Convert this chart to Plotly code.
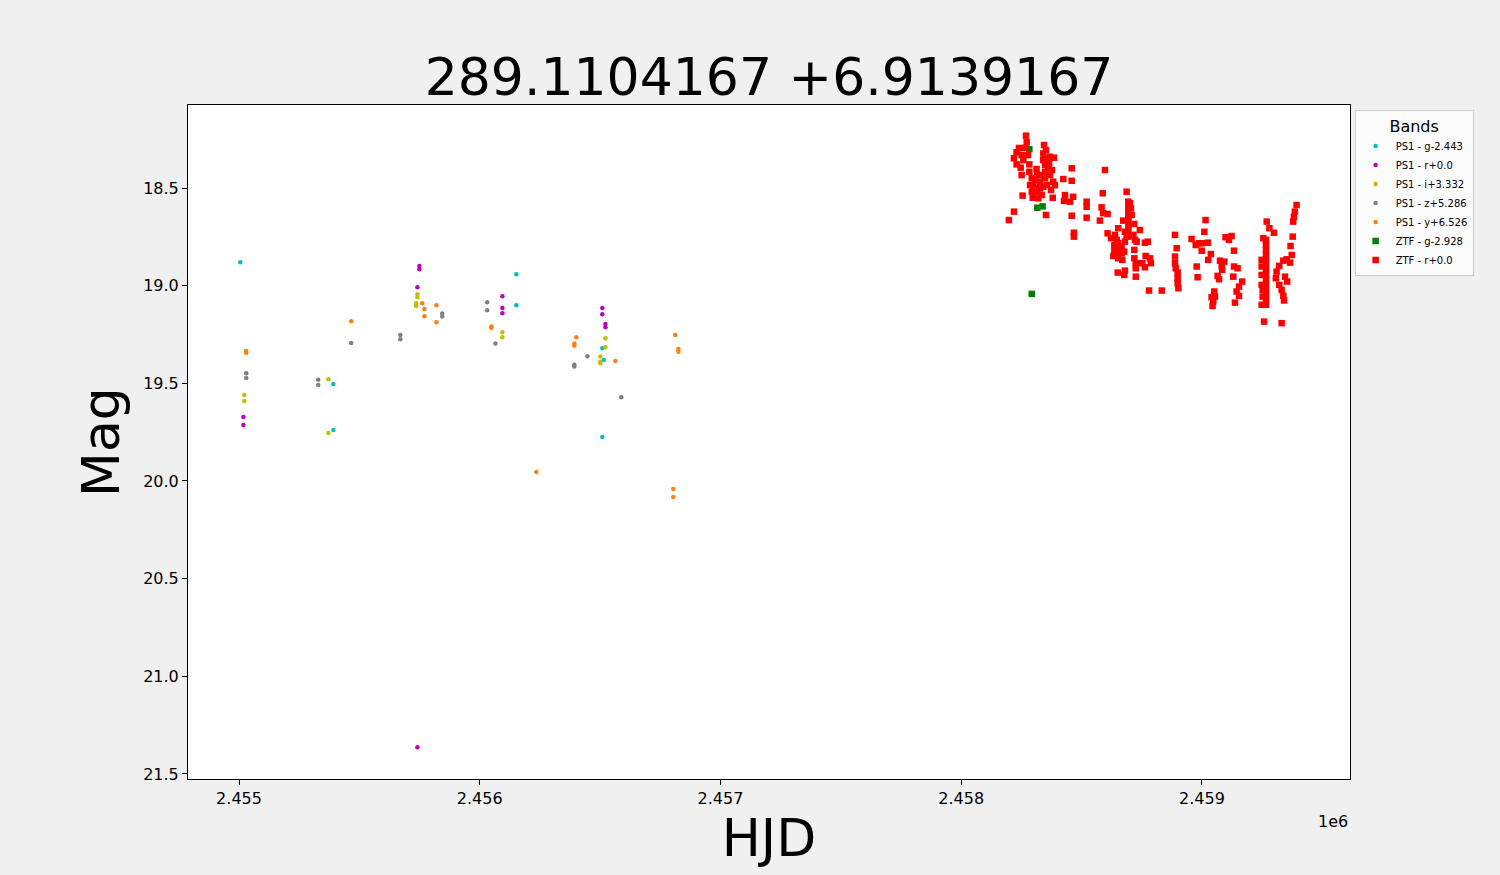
import plotly.graph_objects as go

# ---------------- data ----------------
ps1_g_hjd = [2455005, 2455392, 2455392, 2456152, 2456152, 2456509, 2456515, 2456509]
ps1_g_mag = [18.880, 19.504, 19.739, 18.941, 19.100, 19.320, 19.381, 19.775]

ps1_r_hjd = [2455018, 2455018, 2455749, 2455749, 2455741, 2455741, 2456094, 2456094, 2456094,
             2456509, 2456509, 2456522, 2456522]
ps1_r_mag = [19.673, 19.714, 18.899, 18.916, 19.008, 21.364, 19.054, 19.114, 19.141,
             19.115, 19.146, 19.196, 19.213]

ps1_i_hjd = [2455022, 2455022, 2455371, 2455371, 2455741, 2455741, 2455736, 2455736,
             2456094, 2456094, 2456522, 2456522, 2456501, 2456501, 2456501]
ps1_i_mag = [19.560, 19.591, 19.479, 19.755, 19.044, 19.059, 19.090, 19.104,
             19.238, 19.264, 19.269, 19.315, 19.363, 19.389, 19.397]

ps1_z_hjd = [2455030, 2455030, 2455329, 2455329, 2455466, 2455670, 2455670, 2455844, 2455844,
             2456031, 2456031, 2456065, 2456447, 2456393, 2456393, 2456588]
ps1_z_mag = [19.448, 19.473, 19.482, 19.509, 19.294, 19.253, 19.274, 19.143, 19.158,
             19.085, 19.126, 19.296, 19.361, 19.414, 19.405, 19.571]

ps1_y_hjd = [2455030, 2455030, 2455466, 2455761, 2455770, 2455770, 2455820, 2455820,
             2456048, 2456048, 2456235, 2456401, 2456393, 2456393, 2456563, 2456812,
             2456825, 2456825, 2456804, 2456804]
ps1_y_mag = [19.334, 19.344, 19.182, 19.090, 19.120, 19.156, 19.100, 19.187,
             19.215, 19.209, 19.954, 19.264, 19.296, 19.307, 19.386, 19.253,
             19.324, 19.339, 20.041, 20.082]

ztf_g_hjd = [2458283, 2458316, 2458338, 2458293]
ztf_g_mag = [18.301, 18.601, 18.594, 19.042]

ztf_r_hjd = [
    2458269, 2458272, 2458265, 2458230, 2458219, 2458251, 2458258, 2458230, 2458247, 2458251,
    2458283, 2458283, 2458293, 2458299, 2458313, 2458341, 2458348, 2458369, 2458385, 2458348,
    2458348, 2458348, 2458362, 2458369, 2458382, 2458334, 2458327, 2458320, 2458299, 2458293,
    2458313, 2458327, 2458341, 2458389, 2458459, 2458424, 2458459, 2458255, 2458297, 2458320,
    2458334, 2458380, 2458431, 2458427, 2458452, 2458465, 2458521, 2458521, 2458219, 2458198,
    2458352, 2458459, 2458521, 2458468, 2458468,
    2458306, 2458356, 2458373, 2458340, 2458352, 2458344, 2458277, 2458240, 2458286, 2458315,
    2458365, 2458377,
    2458597, 2458588, 2458687, 2458583, 2458590, 2458608, 2458576,
    2458694, 2458694, 2458694, 2458694, 2458694, 2458694, 2458694, 2458694,
    2458701, 2458705, 2458708, 2458673, 2458719, 2458742, 2458652, 2458608, 2458622, 2458639,
    2458646, 2458680, 2458687, 2458715, 2458722, 2458636, 2458636, 2458636,
    2458652, 2458652, 2458652, 2458652, 2458666, 2458666, 2458669, 2458680, 2458677, 2458729,
    2458719, 2458763, 2458775, 2458632, 2458719, 2458725, 2458725, 2458766, 2458784, 2458788,
    2458752, 2458763, 2458650, 2458680, 2458677, 2458725, 2458780, 2458833,
    2459015, 2459010, 2458888, 2458957, 2458974, 2458988, 2458999, 2459024, 2458999, 2458895,
    2458888, 2458888, 2458891, 2458899, 2458899, 2458899, 2458902, 2459037, 2459026, 2458978,
    2458982, 2459098, 2459112, 2459123, 2459133, 2459075, 2459093, 2459082, 2459084, 2459065,
    2459071, 2459133, 2459148, 2459130, 2459167, 2459154, 2459144, 2459154, 2459051, 2459054,
    2459040, 2459047, 2459044, 2459137,
    2459393, 2459386, 2459382, 2459379, 2459269, 2459280, 2459299, 2459377, 2459255,
    2459266, 2459266, 2459266, 2459266, 2459266, 2459266, 2459266, 2459266, 2459266, 2459266,
    2459266, 2459266, 2459266, 2459266,
    2459248, 2459248, 2459248, 2459248, 2459252, 2459252, 2459248,
    2459368, 2459373, 2459352, 2459338, 2459366, 2459321, 2459310, 2459307, 2459345, 2459354,
    2459321, 2459331, 2459338, 2459341, 2459258, 2459331,
]
ztf_r_mag = [
    18.232, 18.266, 18.294, 18.317, 18.348, 18.331, 18.357, 18.379, 18.396, 18.434,
    18.379, 18.417, 18.450, 18.485, 18.403, 18.323, 18.348, 18.340, 18.345, 18.382,
    18.417, 18.450, 18.399, 18.434, 18.468, 18.434, 18.468, 18.502, 18.502, 18.519,
    18.519, 18.502, 18.493, 18.485, 18.399, 18.454, 18.463, 18.539, 18.550, 18.553,
    18.536, 18.550, 18.536, 18.566, 18.570, 18.545, 18.570, 18.596, 18.621, 18.664,
    18.638, 18.642, 18.652, 18.729, 18.749,
    18.459, 18.485, 18.510, 18.357, 18.306, 18.280, 18.331, 18.295, 18.485, 18.434,
    18.372, 18.408,
    18.408, 18.527, 18.519, 18.599, 18.629, 18.633, 18.667,
    18.570, 18.596, 18.621, 18.647, 18.672, 18.698, 18.724, 18.749,
    18.578, 18.604, 18.638, 18.667, 18.684, 18.715, 18.706, 18.732, 18.757, 18.740,
    18.766, 18.724, 18.749, 18.740, 18.766, 18.792, 18.817, 18.843,
    18.783, 18.808, 18.834, 18.860, 18.800, 18.834, 18.868, 18.775, 18.826, 18.775,
    18.817, 18.780, 18.775, 18.848, 18.860, 18.885, 18.911, 18.848, 18.860, 18.885,
    18.885, 18.906, 18.933, 18.923, 18.945, 18.954, 19.025, 19.025,
    18.664, 18.724, 18.740, 18.761, 18.792, 18.783, 18.783, 18.780, 18.821, 18.808,
    18.851, 18.885, 18.911, 18.933, 18.962, 18.987, 19.013, 18.838, 18.868, 18.902,
    18.957, 18.752, 18.766, 18.746, 18.821, 18.872, 18.877, 18.899, 18.919, 18.950,
    18.967, 18.902, 18.911, 18.954, 18.979, 19.005, 19.030, 19.052, 19.030, 19.056,
    19.059, 19.082, 19.104, 19.087,
    18.587, 18.621, 18.647, 18.672, 18.672, 18.706, 18.729, 18.749, 18.757,
    18.766, 18.792, 18.817, 18.843, 18.868, 18.894, 18.919, 18.945, 18.971, 18.996,
    19.022, 19.047, 19.073, 19.098,
    18.868, 18.902, 18.945, 18.996, 19.022, 19.056, 19.098,
    18.797, 18.843, 18.865, 18.872, 18.882, 18.899, 18.928, 18.962, 18.954, 18.979,
    18.996, 19.022, 19.052, 19.076, 19.184, 19.192,
]

x_tick_vals = [2455000, 2456000, 2457000, 2458000, 2459000]
x_tick_text = ["2.455", "2.456", "2.457", "2.458", "2.459"]
y_tick_vals = [18.5, 19.0, 19.5, 20.0, 20.5, 21.0, 21.5]
y_tick_text = ["18.5", "19.0", "19.5", "20.0", "20.5", "21.0", "21.5"]

title_text = "289.1104167 +6.9139167"

# ---------------- figure ----------------
FONT = "DejaVu Sans, Liberation Sans, sans-serif"

fig = go.Figure()

ps1_series = [
    ("PS1 - g-2.443", ps1_g_hjd, ps1_g_mag, "#00bfbf"),
    ("PS1 - r+0.0", ps1_r_hjd, ps1_r_mag, "#bf00bf"),
    ("PS1 - i+3.332", ps1_i_hjd, ps1_i_mag, "#bfbf00"),
    ("PS1 - z+5.286", ps1_z_hjd, ps1_z_mag, "#808080"),
    ("PS1 - y+6.526", ps1_y_hjd, ps1_y_mag, "#ff7f0e"),
]
for name, xs, ys, col in ps1_series:
    fig.add_trace(go.Scatter(
        x=xs, y=ys, mode="markers", name=name,
        marker=dict(symbol="circle", size=4.5, color=col, line=dict(width=0)),
    ))

fig.add_trace(go.Scatter(
    x=ztf_g_hjd, y=ztf_g_mag, mode="markers", name="ZTF - g-2.928",
    marker=dict(symbol="square", size=6.5, color="#008000", line=dict(width=0)),
))
fig.add_trace(go.Scatter(
    x=ztf_r_hjd, y=ztf_r_mag, mode="markers", name="ZTF - r+0.0",
    marker=dict(symbol="square", size=6.5, color="#ff0000", line=dict(width=0)),
))

axis_common = dict(
    showline=True, linecolor="black", linewidth=1, mirror=True,
    ticks="outside", ticklen=5, tickwidth=1, tickcolor="black",
    showgrid=False, zeroline=False,
    tickfont=dict(family=FONT, size=16, color="black"),
)

fig.update_xaxes(
    range=[2454788, 2459615], tickmode="array",
    tickvals=x_tick_vals, ticktext=x_tick_text,
    title=dict(text="HJD", font=dict(family=FONT, size=52, color="black"), standoff=8),
    **axis_common,
)
fig.update_yaxes(
    range=[21.526, 18.075], tickmode="array",
    tickvals=y_tick_vals, ticktext=y_tick_text,
    title=dict(text="Mag", font=dict(family=FONT, size=52, color="black"), standoff=6),
    **axis_common,
)

fig.add_annotation(
    text="1e6", xref="paper", yref="paper", x=1, y=0,
    xanchor="right", yanchor="top", yshift=-31, showarrow=False,
    font=dict(family=FONT, size=16, color="black"),
)

fig.update_layout(
    width=1500, height=875,
    paper_bgcolor="#f0f0f0", plot_bgcolor="white",
    margin=dict(l=188, r=150, t=105, b=96),
    title=dict(text=title_text, x=(188 + 1350) / 2 / 1500, xanchor="center",
               y=1 - 77 / 875, yanchor="middle",
               font=dict(family=FONT, size=52, color="black")),
    font=dict(family=FONT, color="black"),
    showlegend=True,
    legend=dict(
        x=1.004, y=0.993, xanchor="left", yanchor="top",
        bgcolor="rgba(255,255,255,0.8)", bordercolor="#cccccc", borderwidth=1,
        font=dict(family=FONT, size=10, color="black"),
        title=dict(text="Bands", side="top center", font=dict(family=FONT, size=16, color="black")),
        tracegroupgap=0, itemwidth=30,
    ),
)

fig.write_html(
    "out.html",
    config={"displayModeBar": False},
    post_script="document.body.style.margin='0';document.body.style.background='#f0f0f0';"
                "document.body.style.overflow='hidden';",
)
